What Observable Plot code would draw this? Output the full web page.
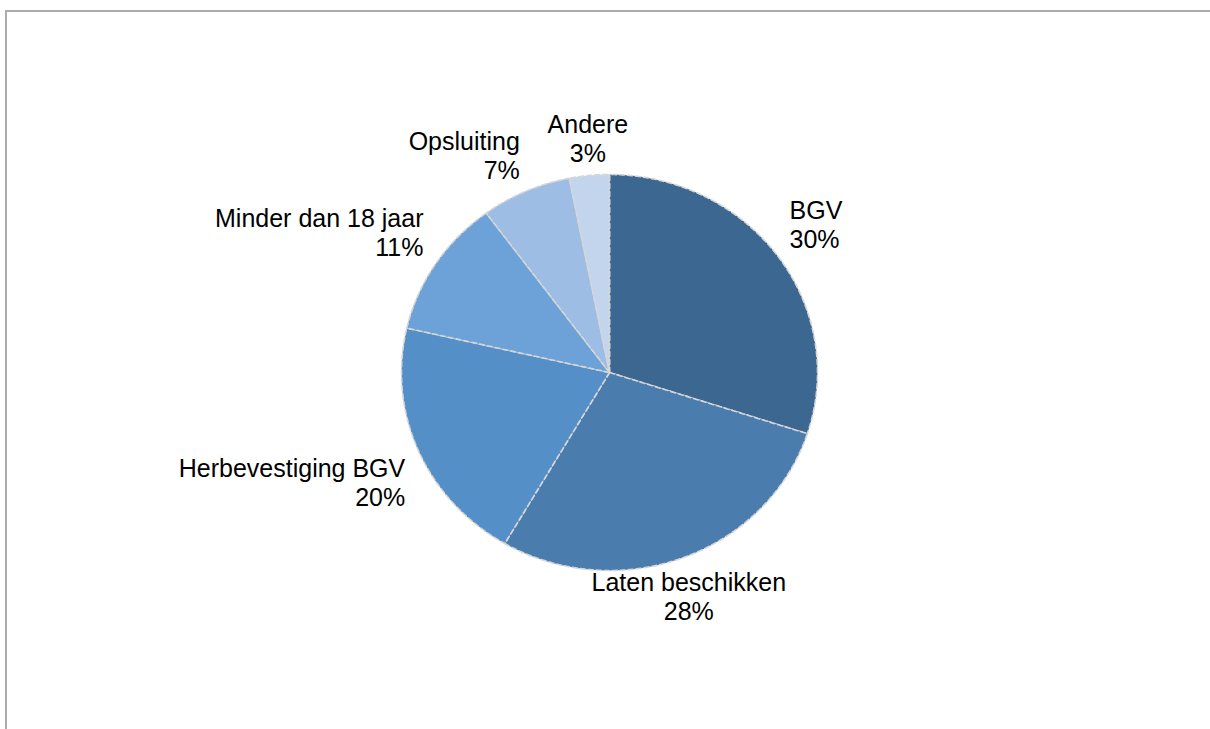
<!DOCTYPE html>
<html>
<head>
<meta charset="utf-8">
<script src="https://cdn.jsdelivr.net/npm/d3@7"></script>
<script src="https://cdn.jsdelivr.net/npm/@observablehq/plot@0.6"></script>
<style>
  html, body { margin: 0; padding: 0; background: #fff; }
  #wrap { position: relative; width: 1210px; height: 729px; overflow: hidden; }
  #frame { position: absolute; left: 5px; top: 10px; right: -10px; bottom: -10px;
           border-top: 2px solid #ababab; border-left: 2px solid #ababab; pointer-events: none; }
  #chart { position: absolute; left: 0; top: 0; }
</style>
</head>
<body>
<div id="wrap"><div id="chart"></div><div id="frame"></div></div>
<script>
const categories = ["BGV", "Laten beschikken", "Herbevestiging BGV", "Minder dan 18 jaar", "Opsluiting", "Andere"];
const values = [30.0, 28.4, 20.2, 11.3, 7.0, 3.1];
const colors = ["#3b6790", "#4a7cae", "#5490c7", "#6ca2d8", "#9ebde4", "#c3d5ec"];

const total = d3.sum(values);
const arcs = d3.pie().sort(null).value(d => d)(values);

// slice outlines in unit space (angle 0 = top, clockwise)
const slicePts = [];
arcs.forEach((a, i) => {
  const name = categories[i];
  slicePts.push({name, x: 0, y: 0});
  const n = Math.max(2, Math.ceil((a.endAngle - a.startAngle) / 0.005));
  for (let k = 0; k <= n; k++) {
    const t = a.startAngle + (a.endAngle - a.startAngle) * k / n;
    slicePts.push({name, x: Math.sin(t), y: Math.cos(t)});
  }
  slicePts.push({name, x: 0, y: 0});
});

// labels
const labelR = 1.07;
const labels = arcs.map((a, i) => {
  const m = (a.startAngle + a.endAngle) / 2;
  const s = Math.sin(m), c = Math.cos(m);
  return {
    text: categories[i] + "\n" + Math.round(values[i] / total * 100) + "%",
    x: s * labelR, y: c * labelR,
    anchor: s > 0.4 ? "start" : s < -0.4 ? "end" : "middle",
    lineAnchor: c > 0 ? "bottom" : "top"
  };
});

const textMarks = labels.map(d => Plot.text([d], {
  x: "x", y: "y", text: "text",
  textAnchor: d.anchor, lineAnchor: d.lineAnchor,
  fontSize: 25, lineHeight: 1.15, fill: "#000",
  fontFamily: "'Liberation Sans', Arial, sans-serif"
}));

const chart = Plot.plot({
  width: 1210, height: 729,
  margin: 0,
  style: {background: "transparent"},
  x: {type: "linear", domain: [-1, 1], range: [401, 817], axis: null},
  y: {type: "linear", domain: [-1, 1], range: [570, 174], axis: null},
  color: {domain: categories, range: colors},
  marks: [
    Plot.line(slicePts, {
      x: "x", y: "y", z: "name", fill: "name",
      stroke: "#d6d6d6", strokeWidth: 1.6, strokeDasharray: "5,3",
      curve: "linear"
    }),
    ...textMarks
  ]
});
document.getElementById("chart").appendChild(chart);
</script>
</body>
</html>
